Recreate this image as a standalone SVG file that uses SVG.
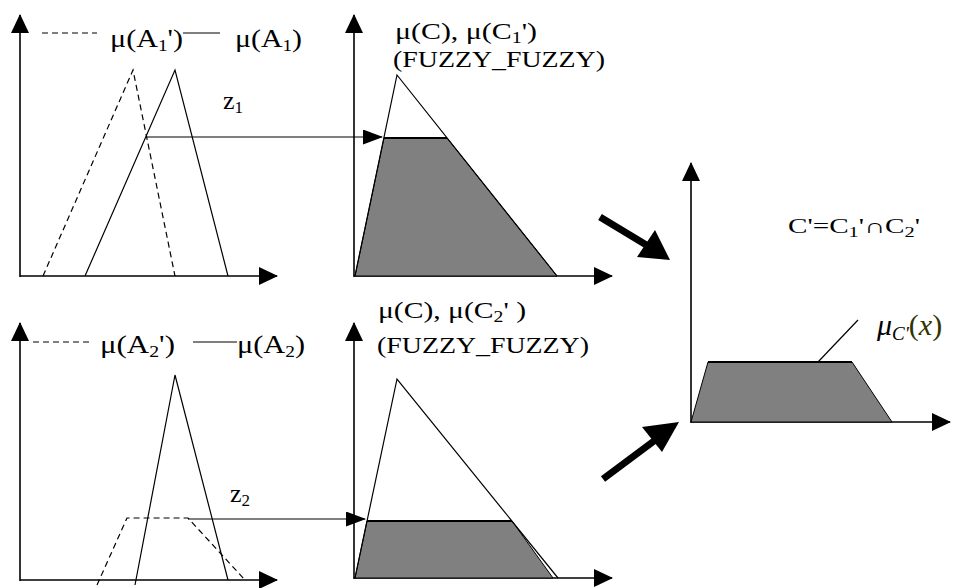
<svg xmlns="http://www.w3.org/2000/svg" width="971" height="588" viewBox="0 0 971 588">
<style>
  .ax{stroke:#000;stroke-width:1.6;fill:none;marker-end:url(#ah)}
  .ln{stroke:#000;stroke-width:1.2;fill:none}
  .dash{stroke:#000;stroke-width:1.2;fill:none;stroke-dasharray:6,4}
  .fill{fill:#808080;stroke:#000;stroke-width:1}
  .top{stroke:#000;stroke-width:2.2}
  .zl{stroke:#000;stroke-width:1.2;fill:none;marker-end:url(#sh)}
  .big{stroke:#000;stroke-width:7;fill:none}
  text{font-family:"Liberation Serif","Times New Roman",serif;fill:#000}
  .lbl{font-size:25px}
  .lbl2{font-size:24px}
  .sub{font-size:16px}
</style>
<defs>
  <marker id="ah" markerUnits="userSpaceOnUse" markerWidth="19" markerHeight="19" refX="18" refY="9" orient="auto">
    <path d="M0,0 L19,9 L0,18 z" fill="#000"/>
  </marker>
  <marker id="sh" markerUnits="userSpaceOnUse" markerWidth="20" markerHeight="16" refX="19" refY="7.5" orient="auto">
    <path d="M0,0 L20,7.5 L0,15 z" fill="#000"/>
  </marker>
</defs>
<rect width="971" height="588" fill="#fff"/>

<g id="panel-A1">
  <line class="ax" x1="20" y1="277" x2="20" y2="15"/>
  <line class="ax" x1="20" y1="276" x2="277" y2="276"/>
  <line class="dash" x1="42" y1="33" x2="97" y2="33"/>
  <line class="ln" x1="183" y1="33" x2="220" y2="33"/>
  <text class="lbl" x="110" y="47" textLength="73" lengthAdjust="spacingAndGlyphs">μ(A<tspan class="sub" dy="4">1</tspan><tspan dy="-4">')</tspan></text>
  <text class="lbl" x="235" y="47" textLength="67" lengthAdjust="spacingAndGlyphs">μ(A<tspan class="sub" dy="4">1</tspan><tspan dy="-4">)</tspan></text>
  <polyline class="dash" stroke-dasharray="5,3" points="43,276 133,70 175,276"/>
  <polyline class="ln" points="85,276 175,70 228,276"/>
  <text x="223" y="109" style="font-size:26px">z<tspan style="font-size:17px" dy="4">1</tspan></text>
</g>

<g id="panel-C1">
  <line class="ax" x1="354" y1="277" x2="354" y2="15"/>
  <line class="ax" x1="354" y1="276" x2="612" y2="276"/>
  <polygon class="fill" points="355,276 384,138 447,138 557,276"/>
  <line class="top" x1="384" y1="138" x2="447" y2="138"/>
  <polyline class="ln" points="355,276 397,75 557,276"/>
  <text class="lbl2" x="395" y="39" textLength="142" lengthAdjust="spacingAndGlyphs">μ(C), μ(C<tspan class="sub" dy="4">1</tspan><tspan dy="-4">')</tspan></text>
  <text class="lbl2" x="393" y="67" textLength="212" lengthAdjust="spacingAndGlyphs">(FUZZY_FUZZY)</text>
</g>

<g id="panel-A2">
  <line class="ax" x1="20" y1="581" x2="20" y2="323"/>
  <line class="ax" x1="20" y1="580" x2="277" y2="580"/>
  <line class="dash" x1="33" y1="342" x2="90" y2="342"/>
  <line class="ln" x1="193" y1="342" x2="237" y2="342"/>
  <text class="lbl" x="100" y="353" textLength="75" lengthAdjust="spacingAndGlyphs">μ(A<tspan class="sub" dy="4">2</tspan><tspan dy="-4">')</tspan></text>
  <text class="lbl" x="237" y="353" textLength="68" lengthAdjust="spacingAndGlyphs">μ(A<tspan class="sub" dy="4">2</tspan><tspan dy="-4">)</tspan></text>
  <polyline class="ln" points="135,585 175,375 228,580"/>
  <polyline class="dash" stroke-dasharray="5,3" points="97,585 127,518 188,518 245,580"/>
  <text x="230" y="502" style="font-size:26px">z<tspan style="font-size:17px" dy="4">2</tspan></text>
</g>

<g id="panel-C2">
  <line class="ax" x1="354" y1="579" x2="354" y2="323"/>
  <line class="ax" x1="354" y1="578" x2="612" y2="578"/>
  <polygon class="fill" points="355,578 367,521 512,521 553,578"/>
  <line class="top" x1="367" y1="521" x2="512" y2="521"/>
  <polyline class="ln" points="355,578 397,379 558,578"/>
  <text class="lbl2" x="378" y="318" textLength="148" lengthAdjust="spacingAndGlyphs">μ(C), μ(C<tspan class="sub" dy="4">2</tspan><tspan dy="-4">' )</tspan></text>
  <text class="lbl2" x="377" y="353" textLength="212" lengthAdjust="spacingAndGlyphs">(FUZZY_FUZZY)</text>
</g>

<g id="panel-result">
  <line class="ax" x1="691" y1="423" x2="691" y2="163"/>
  <line class="ax" x1="691" y1="422" x2="950" y2="422"/>
  <polygon class="fill" points="691,422 708,362 852,362 892,422"/>
  <line class="top" x1="708" y1="362" x2="852" y2="362"/>
  <line class="ln" x1="818" y1="362" x2="858" y2="320"/>
  <text x="788" y="233" style="font-size:20px" textLength="132" lengthAdjust="spacingAndGlyphs">C'=C<tspan style="font-size:14px" dy="4">1</tspan><tspan dy="-4">'∩C</tspan><tspan style="font-size:14px" dy="4">2</tspan><tspan dy="-4">'</tspan></text>
  <text x="877" y="335" style="font-size:30px"><tspan font-style="italic">μ</tspan><tspan font-style="italic" style="font-size:19px" dy="5">C'</tspan><tspan dy="-5" fill="#333300">(<tspan font-style="italic">x</tspan>)</tspan></text>
</g>

<g id="connectors">
  <line class="zl" x1="146" y1="137" x2="382" y2="137"/>
  <line class="zl" x1="188" y1="519" x2="365" y2="519"/>
  <line class="big" x1="600" y1="217" x2="648" y2="246"/>
  <polygon points="670,260 637,257 655,230" fill="#000"/>
  <line class="big" x1="603" y1="479" x2="654" y2="441"/>
  <polygon points="679,422 642,427 662,452" fill="#000"/>
</g>
</svg>
